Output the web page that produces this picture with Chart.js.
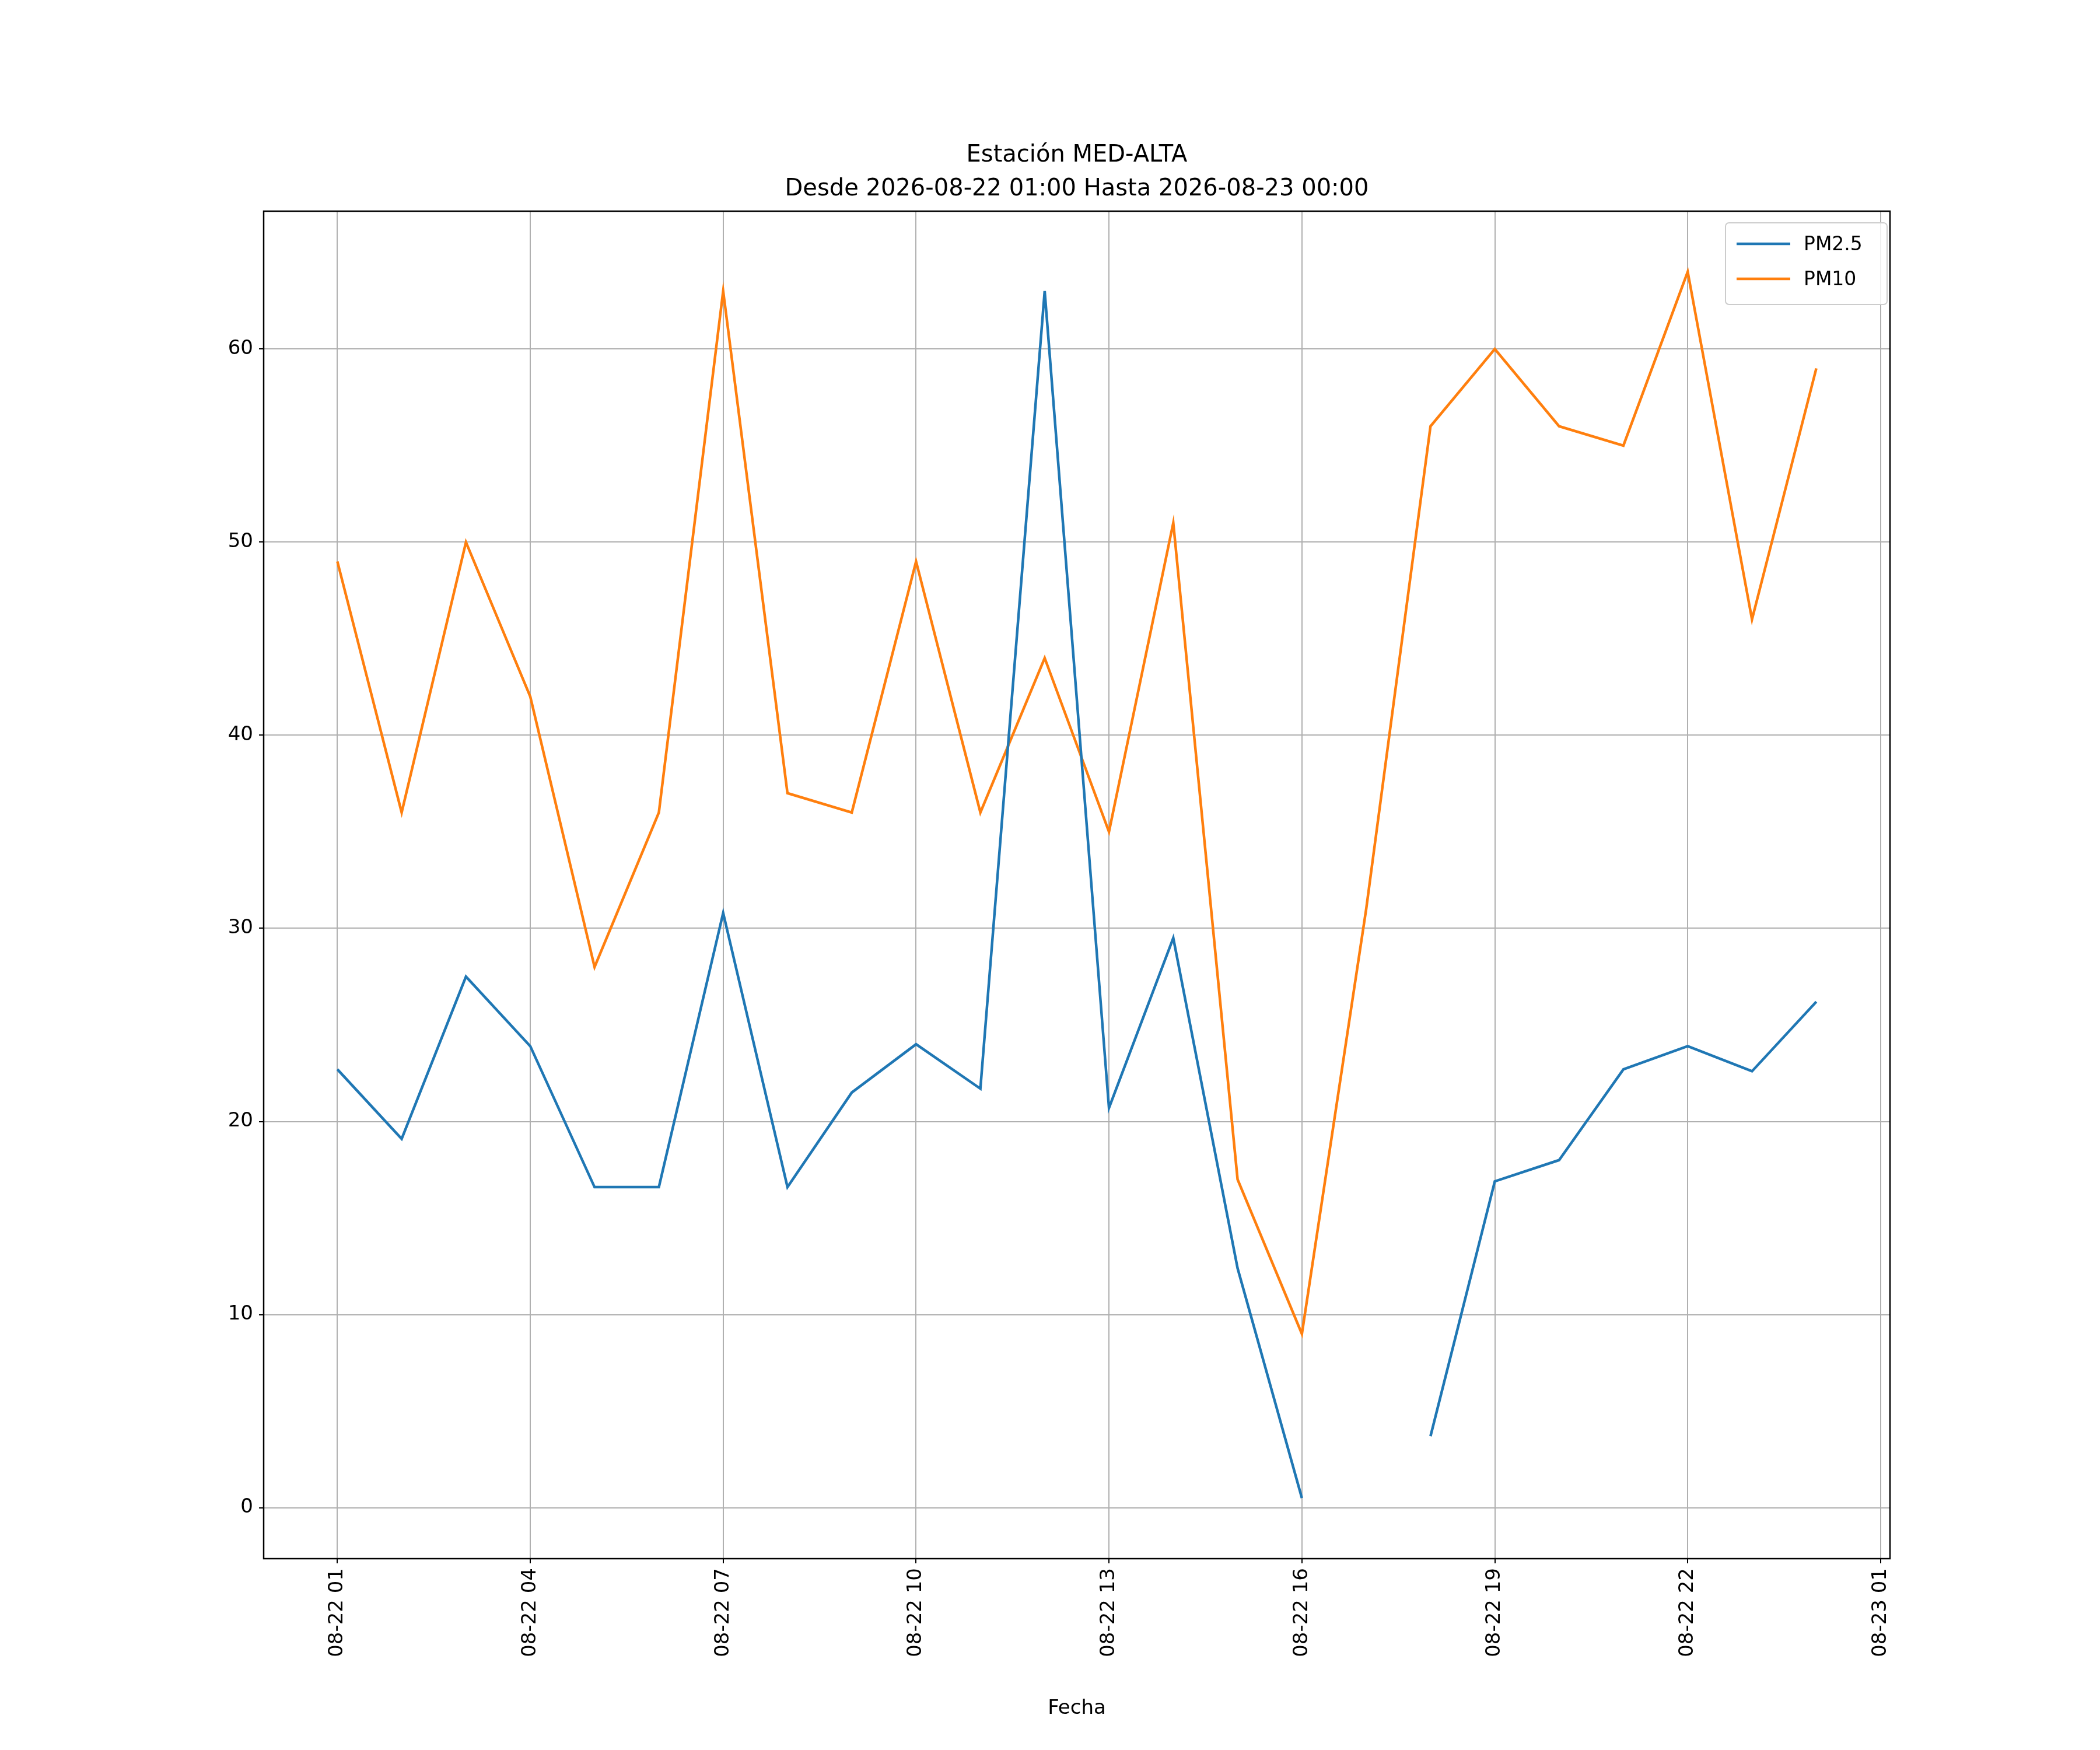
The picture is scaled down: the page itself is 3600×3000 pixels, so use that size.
<!DOCTYPE html>
<html><head><meta charset="utf-8">
<script src="https://cdn.jsdelivr.net/npm/chart.js@4/dist/chart.umd.min.js"></script>
<style>html,body{margin:0;background:#fff}canvas{display:block}</style>
</head><body>
<canvas id="c" width="3600" height="3000"></canvas>
<script>
const hours = [1,2,3,4,5,6,7,8,9,10,11,12,13,14,15,16,17,18,19,20,21,22,23,24];
const pm25 = [22.7,19.1,27.5,23.9,16.6,16.6,30.8,16.6,21.5,24.0,21.7,63.0,20.7,29.5,12.4,0.5,null,3.7,16.9,18.0,22.7,23.9,22.6,26.2];
const pm10 = [49,36,50,42,28,36,63,37,36,49,36,44,35,51,17,9,31,56,60,56,55,64,46,59];
const xTickValues = [1,4,7,10,13,16,19,22,25];
const xTickLabels = ['08-22 01','08-22 04','08-22 07','08-22 10','08-22 13','08-22 16','08-22 19','08-22 22','08-23 01'];
const yTickValues = [0,10,20,30,40,50,60];
const titleLines = ['Estación MED-ALTA','Desde 2026-08-22 01:00 Hasta 2026-08-23 00:00'];
const FONT = 'DejaVu Sans';

const deco = {
  id:'deco',
  afterDraw(ch){
    const c=ch.ctx, a=ch.chartArea;
    c.save();
    c.strokeStyle='#000'; c.lineWidth=2.5;
    c.strokeRect(a.left,a.top,a.right-a.left,a.bottom-a.top);
    c.fillStyle='#000'; c.font='40px "'+FONT+'"'; c.textAlign='center'; c.textBaseline='alphabetic';
    const cx=(a.left+a.right)/2;
    c.fillText(titleLines[0],cx,277);
    c.fillText(titleLines[1],cx,335);
    const bx=2958,by=382,bw=277,bh=140;
    c.fillStyle='rgba(255,255,255,0.8)'; c.strokeStyle='#cccccc'; c.lineWidth=2;
    c.beginPath(); c.roundRect(bx,by,bw,bh,6); c.fill(); c.stroke();
    const items=[['PM2.5','#1f77b4',418],['PM10','#ff7f0e',478]];
    c.font='33px "'+FONT+'"'; c.textAlign='left'; c.textBaseline='middle';
    items.forEach(([t,col,y])=>{
      c.strokeStyle=col; c.lineWidth=4.5; c.beginPath(); c.moveTo(2977,y); c.lineTo(3069,y); c.stroke();
      c.fillStyle='#000'; c.fillText(t,3092,y+2);
    });
    c.restore();
  }
};

new Chart(document.getElementById('c'),{
  type:'line',
  data:{labels:hours,datasets:[
    {label:'PM2.5',data:hours.map((h,i)=>({x:h,y:pm25[i]})),borderColor:'#1f77b4',borderWidth:4.5,pointRadius:0,spanGaps:false,tension:0},
    {label:'PM10',data:hours.map((h,i)=>({x:h,y:pm10[i]})),borderColor:'#ff7f0e',borderWidth:4.5,pointRadius:0,tension:0}
  ]},
  options:{
    responsive:false,animation:false,devicePixelRatio:1,
    layout:{padding:{left:0,right:360,top:362,bottom:0}},
    plugins:{legend:{display:false},tooltip:{enabled:false}},
    scales:{
      x:{type:'linear',min:-0.146,max:25.146,
        afterBuildTicks(s){s.ticks=xTickValues.map(v=>({value:v}));},
        afterFit(s){s.height=328;},
        ticks:{autoSkip:false,maxRotation:90,minRotation:90,color:'#000',font:{family:FONT,size:34},padding:8,
          callback:(v)=>{const i=xTickValues.indexOf(v);return i>=0?xTickLabels[i]:'';}},
        grid:{color:'#b0b0b0',lineWidth:2,drawTicks:true,tickLength:8,tickColor:'#000'},
        border:{display:false},
        title:{display:true,text:'Fecha',color:'#000',font:{family:FONT,size:34},padding:{top:0,bottom:50}}
      },
      y:{type:'linear',min:-2.64,max:67.14,
        afterBuildTicks(s){s.ticks=yTickValues.map(v=>({value:v}));},
        afterFit(s){s.width=452;},
        ticks:{color:'#000',font:{family:FONT,size:34},padding:10},
        grid:{color:'#b0b0b0',lineWidth:2,drawTicks:true,tickLength:8,tickColor:'#000'},
        border:{display:false}
      }
    }
  },
  plugins:[deco]
});
</script>
</body></html>
